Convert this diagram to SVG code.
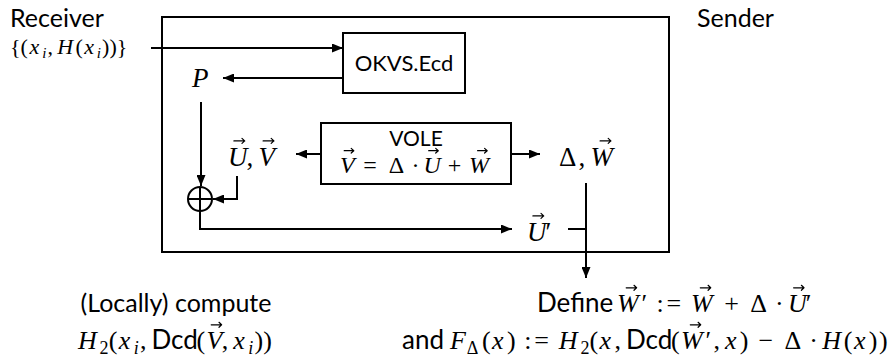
<svg xmlns="http://www.w3.org/2000/svg" width="888" height="360" viewBox="0 0 888 360">
<style>
.sans{font-family:Lato,"Liberation Sans",sans-serif;font-style:normal;}
.m{font-family:"Liberation Serif","DejaVu Serif",serif;}
.i{font-style:italic;}
.box{fill:#fff;stroke:#000;stroke-width:2;}
.ln{fill:none;stroke:#000;stroke-width:2;}
.vec{fill:none;stroke:#000;stroke-width:1.2;stroke-linecap:round;stroke-linejoin:round;}
</style>
<defs>
<marker id="ah" viewBox="0 0 10 10" refX="10" refY="5" markerWidth="11" markerHeight="9" markerUnits="userSpaceOnUse" orient="auto" preserveAspectRatio="none">
<path d="M0,0 L10,5 L0,10 z" fill="#000"/>
</marker>
</defs>
<g id="outer"><rect x="162" y="17" width="507" height="235" fill="none" stroke="#000" stroke-width="2"/></g>
<g id="labels">
<text class="sans" x="10" y="27" font-size="25">Receiver</text>
<text class="sans" x="697" y="27" font-size="25">Sender</text>
<text class="m" y="54" font-size="22"><tspan x="10">{(</tspan><tspan class="i" x="29.6">x</tspan><tspan class="i" x="42.2" y="58" font-size="15">i</tspan><tspan x="47.5" y="54">,</tspan><tspan class="i" x="57.3">H</tspan><tspan x="75.6">(</tspan><tspan class="i" x="84.2">x</tspan><tspan class="i" x="96.8" y="58" font-size="15">i</tspan><tspan x="102.1" y="54">))}</tspan></text>
</g>
<g id="okvs"><rect class="box" x="343" y="33" width="122" height="60"/>
<text class="sans" x="404" y="71" font-size="22" text-anchor="middle">OKVS.Ecd</text></g>
<g id="P"><text class="m i" x="192" y="87" font-size="27">P</text></g>
<g id="vole"><rect class="box" x="321" y="123" width="190" height="61"/>
<text class="sans" x="416" y="146" font-size="21" text-anchor="middle">VOLE</text>
<text class="m" y="173" font-size="24"><tspan class="i" x="340">V</tspan><tspan x="363.3">=</tspan><tspan x="388.8">Δ</tspan><tspan x="411.4">·</tspan><tspan class="i" x="423.4">U</tspan><tspan x="447.7">+</tspan><tspan class="i" x="469.1">W</tspan></text>
<path class="vec" d="M344.2,150.7 H353.8 M351.2,148.4 L353.8,150.7 L351.2,153 M428.7,150.7 H438.3 M435.7,148.4 L438.3,150.7 L435.7,153 M477.6,150.7 H487.2 M484.6,148.4 L487.2,150.7 L484.6,153"/>
</g>
<g id="UV"><text class="m" y="166" font-size="27"><tspan class="i" x="228">U</tspan><tspan x="246.4">,</tspan><tspan class="i" x="258.4">V</tspan></text>
<path class="vec" d="M233.9,140.9 H244.7 M242,138.4 L244.7,140.9 L242,143.4 M263.1,140.9 H273.9 M271.2,138.4 L273.9,140.9 L271.2,143.4"/></g>
<g id="DW"><text class="m" y="166" font-size="27"><tspan x="559">Δ</tspan><tspan x="578.5">,</tspan><tspan class="i" x="590.5">W</tspan></text>
<path class="vec" d="M600.1,140.9 H610.9 M608.2,138.4 L610.9,140.9 L608.2,143.4"/></g>
<g id="xor"><circle class="ln" cx="200" cy="199" r="12"/><path class="ln" d="M188,199 H212 M200,187 V211"/></g>
<g id="Uprime"><text class="m" y="241" font-size="27"><tspan class="i" x="527">U</tspan><tspan x="545.4">′</tspan></text>
<path class="vec" d="M532.9,215.9 H543.7 M541,213.4 L543.7,215.9 L541,218.4"/></g>
<g id="connectors">
<path class="ln" d="M151,48 H343" marker-end="url(#ah)"/>
<path class="ln" d="M343,78 H223" marker-end="url(#ah)"/>
<path class="ln" d="M201,102 V186" marker-end="url(#ah)"/>
<path class="ln" d="M321,154 H296" marker-end="url(#ah)"/>
<path class="ln" d="M511,154 H540" marker-end="url(#ah)"/>
<path class="ln" d="M237,176 V199 H213" marker-end="url(#ah)"/>
<path class="ln" d="M200,211 V229 H512" marker-end="url(#ah)"/>
<path class="ln" d="M568,229 H586"/>
<path class="ln" d="M586,183 V278" marker-end="url(#ah)"/>
</g>
<g id="bottom-left">
<text class="sans" x="176" y="312" font-size="25" text-anchor="middle">(Locally) compute</text>
<text class="m" y="349" font-size="26"><tspan class="i" x="78">H</tspan><tspan x="99.6" y="354" font-size="18">2</tspan><tspan x="108.7" y="349">(</tspan><tspan class="i" x="118.8">x</tspan><tspan class="i" x="133.7" y="354" font-size="18">i</tspan><tspan x="140" y="349">,</tspan><tspan class="sans" x="151.5">Dcd</tspan><tspan x="196.5">(</tspan><tspan class="i" x="206.6">V</tspan><tspan x="221.8">,</tspan><tspan class="i" x="233.3">x</tspan><tspan class="i" x="248.2" y="354" font-size="18">i</tspan><tspan x="254.5" y="349">))</tspan></text>
<path class="vec" d="M211.2,324.8 H221.6 M219,322.3 L221.6,324.8 L219,327.3"/>
</g>
<g id="bottom-right">
<text class="m" y="312" font-size="26"><tspan class="sans" x="537">Define</tspan><tspan class="i" x="617">W</tspan><tspan x="641.5">′</tspan><tspan x="656.5">:</tspan><tspan x="666.5">=</tspan><tspan class="i" x="691.1">W</tspan><tspan x="724.2">+</tspan><tspan x="750.3">Δ</tspan><tspan x="774.9">·</tspan><tspan class="i" x="787.9">U</tspan><tspan x="805.7">′</tspan></text>
<path class="vec" d="M626.2,287.8 H636.6 M634,285.3 L636.6,287.8 L634,290.3 M700.3,287.8 H710.7 M708.1,285.3 L710.7,287.8 L708.1,290.3 M793.6,287.8 H804 M801.4,285.3 L804,287.8 L801.4,290.3"/>
<text class="m" y="349" font-size="26"><tspan class="sans" x="402">and</tspan><tspan class="i" x="450">F</tspan><tspan x="466.7" y="354" font-size="18">Δ</tspan><tspan x="481.9" y="349">(</tspan><tspan class="i" x="492">x</tspan><tspan x="506.9">)</tspan><tspan x="524.2">:</tspan><tspan x="534.2">=</tspan><tspan class="i" x="558.8">H</tspan><tspan x="580.4" y="354" font-size="18">2</tspan><tspan x="589.5" y="349">(</tspan><tspan class="i" x="599.6">x</tspan><tspan x="614.5">,</tspan><tspan class="sans" x="626">Dcd</tspan><tspan x="671">(</tspan><tspan class="i" x="681.1">W</tspan><tspan x="705.6">′</tspan><tspan x="713.4">,</tspan><tspan class="i" x="724.9">x</tspan><tspan x="739.8">)</tspan><tspan x="758.5">−</tspan><tspan x="784.6">Δ</tspan><tspan x="809.2">·</tspan><tspan class="i" x="822.2">H</tspan><tspan x="843.8">(</tspan><tspan class="i" x="853.9">x</tspan><tspan x="868.8">)</tspan><tspan x="878.9">)</tspan></text>
<path class="vec" d="M690.3,324.8 H700.7 M698.1,322.3 L700.7,324.8 L698.1,327.3"/>
</g>
</svg>
